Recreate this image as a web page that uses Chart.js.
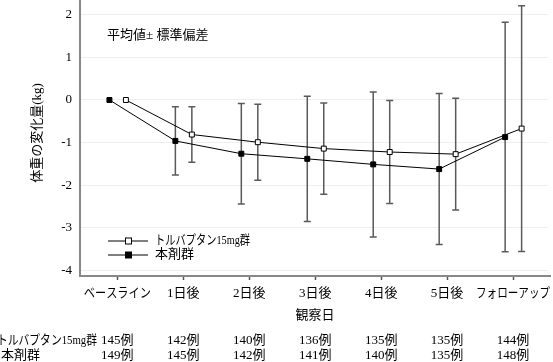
<!DOCTYPE html>
<html>
<head>
<meta charset="utf-8">
<script src="https://cdn.jsdelivr.net/npm/chart.js@4.4.1/dist/chart.umd.min.js"></script>
<style>
  html, body { margin: 0; padding: 0; background: #fff; }
</style>
</head>
<body>
<canvas id="weightChart" width="553" height="362"></canvas>
<script>
const categories = ["ベースライン", "1日後", "2日後", "3日後", "4日後", "5日後", "フォローアップ"];
const yTicks = [-4, -3, -2, -1, 0, 1, 2];

const tolvaptanMean = [0, -0.81, -0.99, -1.14, -1.22, -1.27, -0.67];
const tolvaptanSD = [0, 0.65, 0.89, 1.07, 1.21, 1.31, 2.88];
const drugMean = [0, -0.96, -1.26, -1.38, -1.51, -1.62, -0.87];
const drugSD = [0, 0.80, 1.18, 1.47, 1.70, 1.77, 2.69];

const tolvaptanN = [145, 142, 140, 136, 135, 135, 144];
const drugN = [149, 145, 142, 141, 140, 135, 148];

const FONT = "'Liberation Serif', 'Noto Sans CJK JP', serif";
const DRUG_SHIFT = -0.12;
const TOLV_SHIFT = 0.13;

function toPoints(values, shift) {
  return values.map((v, i) => ({ x: i + shift, y: v }));
}

const errorBars = {
  id: "errorBars",
  beforeDatasetsDraw(chart) {
    const { ctx, scales } = chart;
    const sets = [
      { mean: drugMean, sd: drugSD, shift: DRUG_SHIFT },
      { mean: tolvaptanMean, sd: tolvaptanSD, shift: TOLV_SHIFT },
    ];
    ctx.save();
    ctx.strokeStyle = "#5a5a5a";
    ctx.lineWidth = 1.5;
    sets.forEach((s) => {
      s.mean.forEach((m, i) => {
        if (!s.sd[i]) return;
        const x = scales.x.getPixelForValue(i + s.shift);
        const top = scales.y.getPixelForValue(m + s.sd[i]);
        const bottom = scales.y.getPixelForValue(m - s.sd[i]);
        ctx.beginPath();
        ctx.moveTo(x, top);
        ctx.lineTo(x, bottom);
        ctx.moveTo(x - 3.5, top);
        ctx.lineTo(x + 3.5, top);
        ctx.moveTo(x - 3.5, bottom);
        ctx.lineTo(x + 3.5, bottom);
        ctx.stroke();
      });
    });
    ctx.restore();
  },
};

// narrow widths for the proportional kana in the original
const labelWidths = [67, 36, 36, 36, 36, 36, 74];

const extraText = {
  id: "extraText",
  afterDraw(chart) {
    const { ctx, scales, chartArea } = chart;
    ctx.save();

    // the chart area keeps a few px of inset; run the axis lines to the edges
    ctx.strokeStyle = "#888";
    ctx.lineWidth = 2;
    ctx.beginPath();
    ctx.moveTo(chartArea.left, 0);
    ctx.lineTo(chartArea.left, chartArea.top + 1);
    ctx.moveTo(chartArea.right - 1, chartArea.bottom);
    ctx.lineTo(551, chartArea.bottom);
    ctx.stroke();

    ctx.fillStyle = "#000";
    ctx.font = "13px " + FONT;
    ctx.textBaseline = "middle";

    // annotation
    ctx.textAlign = "left";
    ctx.fillText("平均値± 標準偏差", 107, 36, 106);

    // legend
    ctx.strokeStyle = "#000";
    ctx.lineWidth = 1;
    [[241, false, "トルバプタン15mg群"], [255, true, "本剤群"]].forEach(([y, filled, label]) => {
      ctx.beginPath();
      ctx.moveTo(108, y);
      ctx.lineTo(148, y);
      ctx.stroke();
      if (filled) {
        ctx.fillRect(125, y - 3.5, 7, 7);
      } else {
        ctx.fillStyle = "#fff";
        ctx.fillRect(125, y - 3.5, 7, 7);
        ctx.strokeRect(125.5, y - 3, 6, 6);
        ctx.fillStyle = "#000";
      }
      ctx.fillText(label, 155, y, 95);
    });

    // y title
    ctx.save();
    ctx.translate(38, 133);
    ctx.rotate(-Math.PI / 2);
    ctx.textAlign = "center";
    ctx.fillText("体重の変化量(kg)", 0, 0, 100);
    ctx.restore();

    // x tick labels
    ctx.textAlign = "center";
    categories.forEach((c, i) => {
      const x = scales.x.getPixelForValue(i);
      ctx.fillText(c, x, 294, labelWidths[i]);
    });

    // x title
    ctx.fillText("観察日", 315, 316);

    // patient counts table
    ctx.textAlign = "left";
    ctx.fillText("トルバプタン15mg群", -3, 341, 100);
    ctx.fillText("本剤群", 1, 356);
    ctx.textAlign = "center";
    categories.forEach((_, i) => {
      const x = scales.x.getPixelForValue(i);
      ctx.fillText(tolvaptanN[i] + "例", x, 341);
      ctx.fillText(drugN[i] + "例", x, 356);
    });
    ctx.restore();
  },
};

new Chart(document.getElementById("weightChart"), {
  type: "line",
  data: {
    datasets: [
      {
        label: "トルバプタン15mg群",
        data: toPoints(tolvaptanMean, TOLV_SHIFT),
        borderColor: "#000",
        borderWidth: 1,
        pointStyle: "rect",
        pointRadius: 3.5,
        pointBackgroundColor: "#fff",
        pointBorderColor: "#000",
        pointBorderWidth: 1,
      },
      {
        label: "本剤群",
        data: toPoints(drugMean, DRUG_SHIFT),
        borderColor: "#000",
        borderWidth: 1,
        pointStyle: "rect",
        pointRadius: 3.5,
        pointBackgroundColor: "#000",
        pointBorderColor: "#000",
        pointBorderWidth: 1,
      },
    ],
  },
  options: {
    responsive: false,
    animation: false,
    layout: { padding: { top: 0, right: 2, left: 0, bottom: 0 } },
    plugins: {
      legend: { display: false },
      tooltip: { enabled: false },
    },
    scales: {
      x: {
        type: "linear",
        min: -0.566,
        max: 6.53,
        afterFit: (scale) => {
          scale.height = 86;
          scale.paddingLeft = 0;
          scale.paddingRight = 0;
        },
        afterBuildTicks: (scale) => {
          scale.ticks = categories.map((_, i) => ({ value: i }));
        },
        border: { color: "#888", width: 2 },
        grid: {
          drawOnChartArea: false,
          drawTicks: true,
          tickLength: 4,
          tickColor: "#555",
          tickWidth: 1.5,
        },
        ticks: {
          maxRotation: 0,
          autoSkip: false,
          callback: () => "",
        },
      },
      y: {
        min: -4.127,
        max: 2.227,
        afterFit: (scale) => {
          scale.width = 80;
          scale.paddingTop = 0;
          scale.paddingBottom = 0;
        },
        afterBuildTicks: (scale) => {
          scale.ticks = yTicks.map((v) => ({ value: v }));
        },
        border: { color: "#888", width: 2 },
        grid: {
          color: "#eeeeee",
          lineWidth: 1,
          drawTicks: false,
        },
        ticks: {
          padding: 8,
          color: "#000",
          font: { family: FONT, size: 13 },
        },
      },
    },
  },
  plugins: [errorBars, extraText],
});
</script>
</body>
</html>
